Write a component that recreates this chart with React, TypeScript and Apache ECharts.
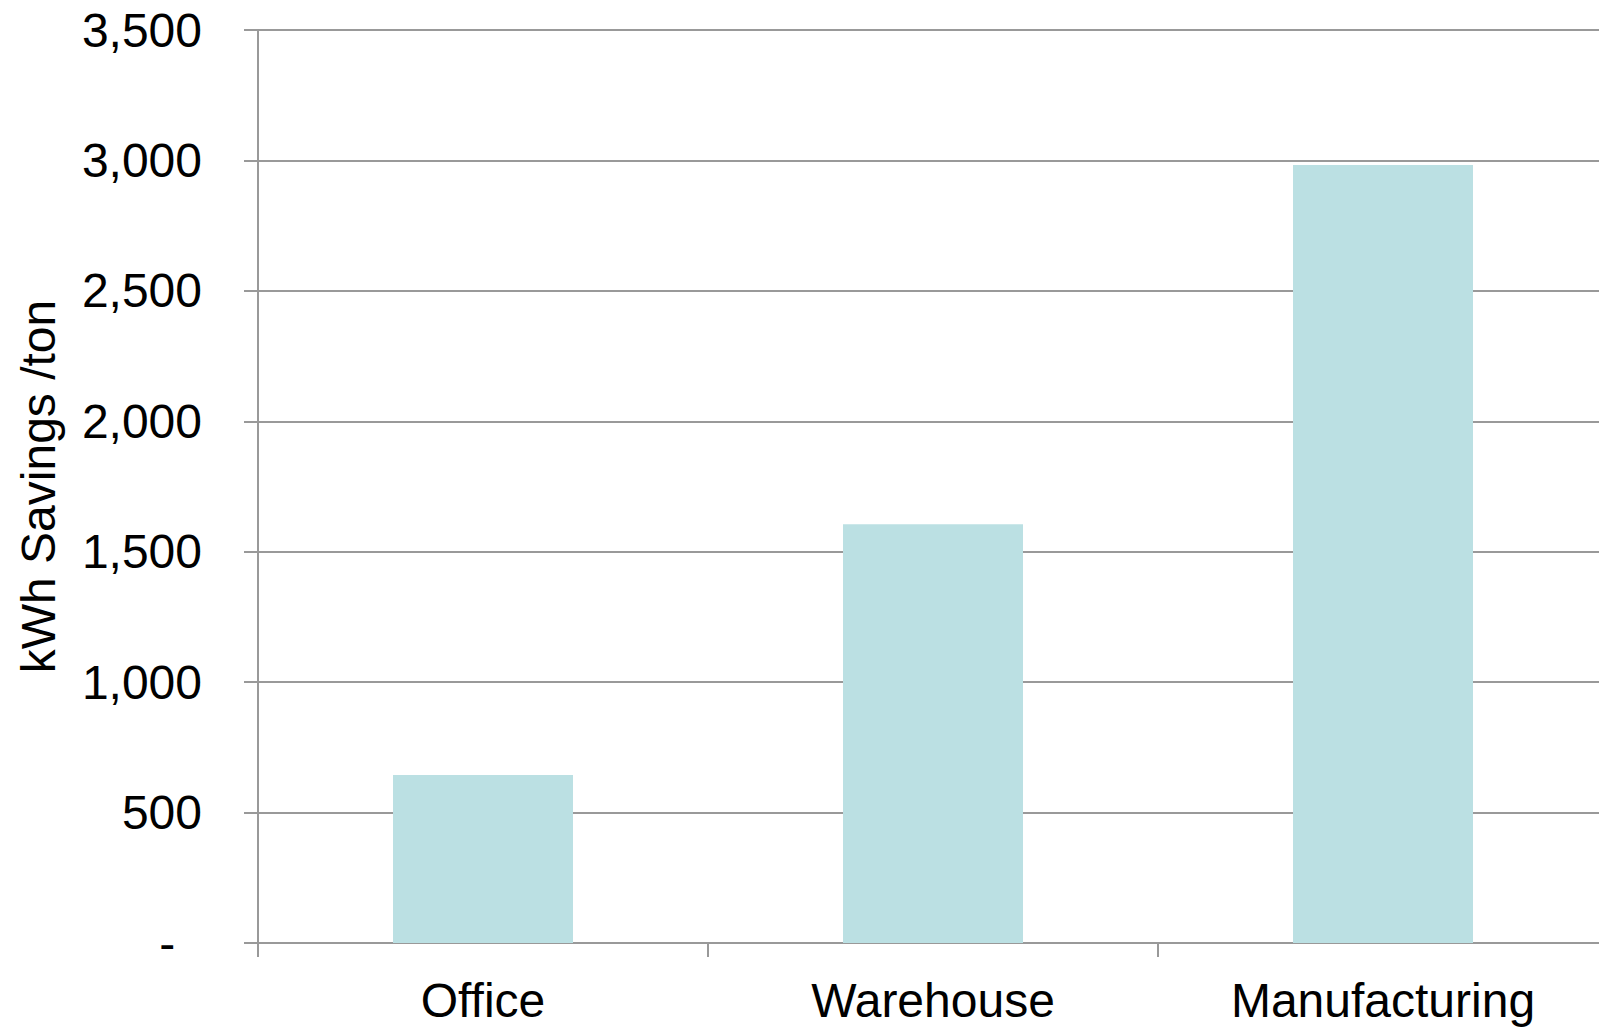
import React, { useEffect, useRef } from "react";
import * as echarts from "echarts";

const categories: string[] = ["Office", "Warehouse", "Manufacturing"];
const savings: number[] = [644, 1605, 2982];
const yAxisName = "kWh Savings /ton";

export default function App() {
  const ref = useRef<HTMLDivElement>(null);
  useEffect(() => {
    if (!ref.current) return;
    const chart = echarts.init(ref.current, undefined, { renderer: "svg" });
    const font = "'Liberation Sans', Arial, sans-serif";
    chart.setOption({
      animation: false,
      backgroundColor: "#ffffff",
      grid: { left: 258, right: 0, top: 30, bottom: 88, containLabel: false },
      xAxis: {
        type: "category",
        data: categories,
        axisLine: { show: true, lineStyle: { color: "#999999", width: 2 } },
        axisTick: { show: true, length: 14, lineStyle: { color: "#999999", width: 2 } },
        axisLabel: { color: "#000000", fontSize: 48, fontFamily: font, margin: 33 },
        splitLine: { show: false },
      },
      yAxis: {
        type: "value",
        min: 0,
        max: 3500,
        interval: 500,
        name: yAxisName,
        nameLocation: "middle",
        nameGap: 196,
        nameTextStyle: { color: "#000000", fontSize: 48, fontFamily: font },
        axisLine: { show: true, lineStyle: { color: "#999999", width: 2 } },
        axisTick: { show: true, length: 14, lineStyle: { color: "#999999", width: 2 } },
        axisLabel: {
          color: "#000000",
          fontSize: 48,
          fontFamily: font,
          margin: 56,
          formatter: (v: number) => (v === 0 ? "-\u2007" : v.toLocaleString("en-US")),
        },
        splitLine: { show: true, lineStyle: { color: "#999999", width: 2 } },
      },
      series: [
        {
          type: "bar",
          data: savings,
          barWidth: "40%",
          itemStyle: { color: "#BBE0E3" },
        },
      ],
    });
    return () => chart.dispose();
  }, []);
  return (
    <div
      style={{
        position: "fixed",
        left: 0,
        top: 0,
        width: 1599,
        height: 1031,
        overflow: "hidden",
        background: "#ffffff",
      }}
    >
      <div ref={ref} style={{ width: 1608, height: 1031 }} />
    </div>
  );
}
